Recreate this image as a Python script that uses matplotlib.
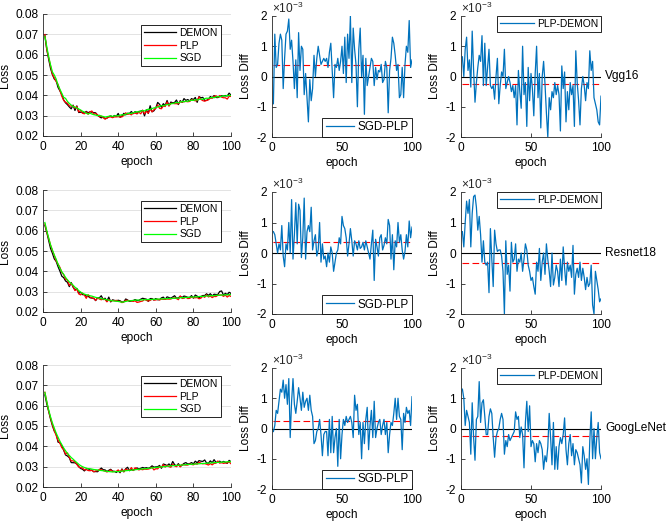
import numpy as np
import matplotlib
matplotlib.use('Agg')
from matplotlib import pyplot as plt
import matplotlib.transforms as mtransforms

plt.rcParams['font.family'] = ['Liberation Sans', 'DejaVu Sans']
plt.rcParams['mathtext.fontset'] = 'custom'
plt.rcParams['mathtext.rm'] = 'Liberation Sans'
plt.rcParams['axes.unicode_minus'] = False

# epochs
epochs = np.arange(1, 101)
nets = ['Vgg16', 'Resnet18', 'GoogLeNet']

# SGD loss curves
sgd_vgg = [
    0.0690, 0.0640, 0.0590, 0.0550, 0.0515, 0.0500, 0.0480, 0.0450, 0.0430, 0.0410,
    0.0390, 0.0385, 0.0370, 0.0360, 0.0352, 0.0345, 0.0342, 0.0338, 0.0333, 0.0328,
    0.0322, 0.0318, 0.0312, 0.0308, 0.0312, 0.0308, 0.0305, 0.0303, 0.0300, 0.0302,
    0.0298, 0.0296, 0.0293, 0.0295, 0.0297, 0.0299, 0.0296, 0.0299, 0.0300, 0.0298,
    0.0302, 0.0305, 0.0303, 0.0307, 0.0310, 0.0312, 0.0310, 0.0315, 0.0317, 0.0320,
    0.0318, 0.0322, 0.0325, 0.0323, 0.0328, 0.0332, 0.0330, 0.0335, 0.0338, 0.0340,
    0.0343, 0.0345, 0.0350, 0.0348, 0.0352, 0.0355, 0.0353, 0.0358, 0.0360, 0.0362,
    0.0365, 0.0363, 0.0367, 0.0370, 0.0368, 0.0372, 0.0370, 0.0374, 0.0376, 0.0375,
    0.0378, 0.0377, 0.0380, 0.0382, 0.0380, 0.0384, 0.0386, 0.0385, 0.0388, 0.0390,
    0.0388, 0.0392, 0.0394, 0.0392, 0.0395, 0.0398, 0.0396, 0.0400, 0.0398, 0.0400]
sgd_resnet = [
    0.0640, 0.0600, 0.0565, 0.0530, 0.0505, 0.0480, 0.0460, 0.0435, 0.0415, 0.0398,
    0.0385, 0.0370, 0.0358, 0.0348, 0.0340, 0.0332, 0.0322, 0.0315, 0.0305, 0.0298,
    0.0292, 0.0288, 0.0285, 0.0283, 0.0280, 0.0278, 0.0275, 0.0272, 0.0270, 0.0268,
    0.0266, 0.0264, 0.0262, 0.0260, 0.0258, 0.0256, 0.0255, 0.0254, 0.0253, 0.0252,
    0.0250, 0.0248, 0.0250, 0.0252, 0.0254, 0.0255, 0.0256, 0.0257, 0.0258, 0.0259,
    0.0258, 0.0260, 0.0259, 0.0261, 0.0260, 0.0262, 0.0261, 0.0262, 0.0263, 0.0262,
    0.0264, 0.0263, 0.0265, 0.0264, 0.0266, 0.0265, 0.0267, 0.0266, 0.0268, 0.0267,
    0.0269, 0.0268, 0.0270, 0.0271, 0.0270, 0.0272, 0.0271, 0.0273, 0.0274, 0.0273,
    0.0275, 0.0274, 0.0276, 0.0277, 0.0276, 0.0278, 0.0279, 0.0278, 0.0280, 0.0281,
    0.0280, 0.0282, 0.0283, 0.0282, 0.0284, 0.0283, 0.0285, 0.0284, 0.0286, 0.0285]
sgd_google = [
    0.0665, 0.0620, 0.0580, 0.0545, 0.0515, 0.0490, 0.0465, 0.0445, 0.0425, 0.0408,
    0.0392, 0.0378, 0.0365, 0.0355, 0.0345, 0.0337, 0.0328, 0.0320, 0.0312, 0.0305,
    0.0300, 0.0296, 0.0293, 0.0290, 0.0290, 0.0288, 0.0286, 0.0285, 0.0284, 0.0282,
    0.0281, 0.0280, 0.0278, 0.0277, 0.0276, 0.0275, 0.0274, 0.0275, 0.0276, 0.0275,
    0.0277, 0.0278, 0.0279, 0.0280, 0.0281, 0.0282, 0.0283, 0.0284, 0.0285, 0.0286,
    0.0287, 0.0288, 0.0289, 0.0290, 0.0290, 0.0292, 0.0293, 0.0294, 0.0295, 0.0296,
    0.0297, 0.0298, 0.0299, 0.0300, 0.0300, 0.0302, 0.0303, 0.0304, 0.0305, 0.0305,
    0.0306, 0.0307, 0.0308, 0.0308, 0.0309, 0.0310, 0.0311, 0.0311, 0.0312, 0.0312,
    0.0313, 0.0314, 0.0314, 0.0315, 0.0316, 0.0316, 0.0317, 0.0318, 0.0318, 0.0319,
    0.0320, 0.0320, 0.0321, 0.0322, 0.0322, 0.0323, 0.0323, 0.0324, 0.0324, 0.0325]

# loss differences, units of 1e-3
sgd_plp_vgg = [
    -0.9, 1.4, 0.3, 0.4, 1.1, 1.4, 1.2, -0.4, 0.6, 1.4,
    1.5, 1.9, 0.9, 1.2, 0.5, -0.4, 0.55, -0.7, 1.45, 0.2,
    1.0, 0.9, -0.6, 0.1, -0.7, -1.5, -0.1, -0.8, -0.4, 0.7,
    0.0, 0.6, 1.0, 0.7, 0.4, 0.5, 0.6, 0.5, 0.6, 0.3,
    0.8, 1.1, 0.2, -0.7, 0.4, 0.3, 0.6, 0.2, 0.5, 1.0,
    0.1, 1.3, -0.2, 1.4, 0.6, 2.0, -0.2, 1.6, 0.9, 0.4,
    -1.0, 0.9, 1.6, 0.0, 0.7, -1.25, 0.6, -0.3, 0.0, 0.3,
    0.6, 0.5, -0.3, 0.3, -0.1, 0.2, 0.15, 0.4, -0.2, -0.1,
    0.5, 0.3, -1.2, 0.2, 0.6, 1.3, 1.1, 0.7, 0.2, 0.4,
    -0.7, -0.6, 0.3, -0.7, 0.4, 1.0, 0.8, 1.85, 0.3, 0.55]
plp_demon_vgg = [
    0.65, 0.0, 0.9, 1.3, 0.2, 0.55, -0.35, 1.5, 0.2, -0.85,
    -0.2, 0.3, 0.7, 0.5, 1.35, -0.3, 1.1, -0.3, 0.3, 0.9,
    -0.3, -0.4, -0.3, -0.75, 0.0, 0.6, -0.9, -0.3, 0.15, 0.0,
    0.9, -0.4, -0.2, 0.0, -0.2, -0.5, -0.3, -0.7, -0.3, -1.6,
    0.2, -0.5, -1.05, 1.0, -0.6, -0.2, -1.65, 0.3, -0.8, 0.1,
    -0.4, -1.3, 0.1, 1.0, -0.7, 0.1, -1.7, 0.0, 0.5, -0.25,
    -1.2, -2.0, -0.7, -1.1, -0.5, -0.7, -0.2, -0.6, -0.3, -0.6,
    -1.8, 0.35, -0.4, 0.15, -1.5, -0.5, -1.1, -0.2, -0.6, -0.3,
    -1.65, 0.85, -0.2, -0.8, -1.6, -0.4, 0.0, -0.3, -0.8, -0.2,
    -0.4, 0.85, 0.2, 0.5, -0.7, -0.9, -1.1, -1.5, -1.6, -0.65]
sgd_plp_resnet = [
    0.7, 0.6, 0.3, 0.0, 0.3, 0.1, 0.9, -0.1, -0.45, 0.3,
    0.1, 1.0, 0.0, 1.75, -0.2, 0.6, 1.65, 0.3, 1.6, 1.4,
    -0.15, 0.5, 1.8, -0.2, 0.7, 0.9, 0.7, 1.5, 0.1, 0.4,
    0.6, -0.1, 0.1, 1.0, -0.3, 0.3, -0.2, -0.1, -0.45, 0.0,
    -0.3, 0.2, 0.0, -0.6, -0.3, 0.0, 0.1, 0.5, 0.3, 1.2,
    0.9, 0.8, 0.5, -0.1, 0.3, 0.8, 0.4, -0.1, 0.4, 0.3,
    0.1, 0.4, 0.15, 0.2, 0.35, 0.1, 0.4, 0.2, 0.0, -0.2,
    0.3, 0.75, -0.9, 0.45, 0.2, -0.1, 0.5, 0.6, 0.1, 0.25,
    0.5, 0.3, 1.1, 0.9, -0.2, 0.6, -0.55, 0.4, 0.2, 1.0,
    0.35, 0.6, 0.1, -0.2, 0.05, 0.6, 0.2, 1.05, 0.5, 0.85]
plp_demon_resnet = [
    0.7, 0.2, 1.0, 1.7, 1.3, 1.75, 0.2, 1.3, 1.85, 1.9,
    1.5, 0.75, 1.2, 0.6, -0.3, 0.4, -0.3, -0.4, -0.3, -1.3,
    0.8, -0.2, -1.1, 0.75, 0.3, 0.05, 0.1, 0.1, -0.1, -0.6,
    -2.0, 0.4, -0.7, -0.4, -1.25, 0.35, -0.3, -0.2, 0.3, -0.6,
    -0.2, -0.3, 0.0, -0.6, -0.2, 0.3, 0.1, -0.4, -0.6, -0.9,
    -0.8, -1.1, -1.35, -0.3, -0.6, 0.15, -0.9, -0.3, 0.0, -0.7,
    0.3, -0.2, -0.6, -1.1, 0.0, -1.05, -0.8, -0.4, -0.6, -1.1,
    -0.2, -0.9, 0.2, -0.5, -1.05, -0.3, -0.6, -0.4, -0.8, 0.25,
    -1.35, -0.7, -0.5, -0.8, -0.3, -0.9, -0.5, -0.8, -1.2, -0.8,
    -1.1, -1.0, -0.4, -1.7, -2.0, -0.6, -0.9, -1.2, -1.6, -1.5]
sgd_plp_google = [
    -0.1, 0.1, 0.6, 0.5, 0.9, 1.3, 1.2, 1.6, 1.0, 1.45,
    0.8, 1.65, -0.3, 0.9, 1.65, 0.8, 0.5, 0.9, 1.35, 1.0,
    0.6, 1.2, 0.7, 0.9, 1.0, 0.6, 1.1, 0.6, 0.4, -0.5,
    -0.4, -0.1, 0.0, 0.3, -0.2, -0.9, -0.2, -0.1, -0.1, -0.9,
    0.3, -0.8, 0.4, -0.8, -0.3, 0.0, -1.25, 0.3, -1.0, -0.2,
    0.3, 0.1, 0.4, 0.2, 0.3, 0.4, 0.2, -0.3, 1.1, 0.6,
    0.8, -0.2, 0.2, -1.0, 0.2, -0.5, 0.3, 0.7, -0.7, 0.1,
    0.6, -0.3, 0.9, -0.3, 0.0, 0.2, 0.3, -0.2, 0.1, 0.3,
    -0.2, 0.2, -0.8, -0.2, 0.2, 0.1, 0.5, 1.0, 0.3, 1.0,
    0.4, 0.3, -0.7, 0.5, 0.2, 0.7, 0.5, 0.6, 0.1, 1.05]
plp_demon_google = [
    1.3, 1.0, 0.1, 0.6, 0.4, 0.2, -0.85, 0.85, -0.3, -1.05,
    0.3, 0.4, 1.55, 0.2, 0.85, 0.95, 0.4, -0.2, -0.2, 0.4,
    0.65, 0.5, -0.3, -0.95, -0.3, -0.1, 0.0, 0.3, 0.5, 0.3,
    -0.85, -0.4, -0.6, -0.2, -0.4, -0.3, -0.2, -0.1, 0.55, 0.3,
    0.4, -0.3, 0.05, -0.2, -1.3, 0.2, 0.9, -0.1, 0.75, -0.6,
    -0.4, -0.5, -1.1, -0.5, -0.8, -0.4, -0.5, -0.7, -1.35, -0.9,
    -1.1, -0.6, 0.5, -0.3, -1.2, 0.2, -1.35, -0.6, -1.35, -0.6,
    -0.3, -0.5, -0.2, 0.35, -0.7, -1.2, -0.5, -0.2, -0.9, -0.5,
    -1.2, -0.7, -0.8, -1.0, -1.2, -1.8, -0.6, -0.9, -1.35, -1.0,
    -1.85, -0.4, 0.55, -1.0, 0.0, -1.0, -0.3, 0.2, -0.8, -1.0]

# mean lines (dashed red), units of 1e-3
mean_sgd_plp = [0.37, 0.37, 0.26]
mean_plp_demon = [-0.26, -0.33, -0.26]

sgd_all = [sgd_vgg, sgd_resnet, sgd_google]
d1_all = [sgd_plp_vgg, sgd_plp_resnet, sgd_plp_google]
d2_all = [plp_demon_vgg, plp_demon_resnet, plp_demon_google]

W, H = 668, 527
fs = 8.6
BLUE = '#0072BD'
AXC = '#262626'
DASH = (0, (6, 3))


def px_axes(fig, l, t, r, b):
    return fig.add_axes([l / W, 1 - b / H, (r - l) / W, (b - t) / H])


def style(ax):
    for s in ['top', 'right']:
        ax.spines[s].set_visible(False)
    for s in ['left', 'bottom']:
        ax.spines[s].set_color(AXC)
        ax.spines[s].set_linewidth(0.6)
    ax.tick_params(direction='in', length=3, width=0.6, colors=AXC,
                   labelsize=fs, pad=3.5, labelcolor='black')


def main():
    fig = plt.figure(figsize=(W / 100, H / 100), dpi=100)
    rows_left = [(14, 136), (190, 312), (365, 487)]
    rows_mid = [(16, 137), (192, 314), (368, 489)]

    for i in range(3):
        sgd = np.array(sgd_all[i])
        d1 = np.array(d1_all[i])
        d2 = np.array(d2_all[i])
        plp = sgd - d1 * 1e-3
        demon = plp - d2 * 1e-3

        # loss curves
        ax = px_axes(fig, 43, rows_left[i][0], 231, rows_left[i][1])
        ax.yaxis.grid(True, color='#dedede', linewidth=0.6)
        ax.set_axisbelow(True)
        ax.plot(epochs, demon, color='black', lw=0.9, label='DEMON')
        ax.plot(epochs, plp, color='red', lw=0.9, label='PLP')
        ax.plot(epochs, sgd, color='#00ff00', lw=0.9, label='SGD')
        ax.set_xlim(0, 100)
        ax.set_ylim(0.02, 0.08)
        ax.set_xticks(np.arange(0, 101, 20))
        ax.set_yticks(np.arange(0.02, 0.081, 0.01))
        ax.set_yticklabels(['%.2f' % v for v in np.arange(0.02, 0.081, 0.01)])
        style(ax)
        ax.set_xlabel('epoch', fontsize=fs, labelpad=2)
        ax.set_ylabel('Loss', fontsize=fs, labelpad=3)
        leg = ax.legend(loc='upper right', bbox_to_anchor=(0.947, 0.91),
                        borderaxespad=0, fontsize=7.4, fancybox=False,
                        edgecolor='black', framealpha=1, handlelength=3.2,
                        labelspacing=0.25, borderpad=0.3, handletextpad=0.3)
        leg.get_frame().set_linewidth(0.6)

        # SGD-PLP
        ax = px_axes(fig, 272, rows_mid[i][0], 412, rows_mid[i][1])
        ax.plot([0, 100], [0, 0], color='black', lw=0.8)
        ax.plot([1, 100], [mean_sgd_plp[i]] * 2, color='red', lw=0.8, ls=DASH)
        ax.plot(epochs, d1, color=BLUE, lw=0.9, label='SGD-PLP')
        ax.set_xlim(0, 100)
        ax.set_ylim(-2, 2)
        ax.set_xticks([0, 50, 100])
        ax.set_yticks([-2, -1, 0, 1, 2])
        style(ax)
        ax.set_xlabel('epoch', fontsize=fs, labelpad=2)
        ax.set_ylabel('Loss Diff', fontsize=fs, labelpad=3)
        ax.text(0.0, 1.0, r'$\times10^{-3}$', transform=ax.transAxes,
                fontsize=fs, ha='left', va='bottom', color=AXC)
        leg = ax.legend(loc='lower right', bbox_to_anchor=(1, 0),
                        borderaxespad=0, fontsize=8.4, fancybox=False,
                        edgecolor='black', framealpha=1, handlelength=2.4,
                        borderpad=0.3, handletextpad=0.3)
        leg.get_frame().set_linewidth(0.6)

        # PLP-DEMON
        ax = px_axes(fig, 461, rows_mid[i][0], 601, rows_mid[i][1])
        ax.plot([0, 100], [0, 0], color='black', lw=0.8)
        ax.plot([1, 100], [mean_plp_demon[i]] * 2, color='red', lw=0.8, ls=DASH)
        ax.plot(epochs, d2, color=BLUE, lw=0.9, label='PLP-DEMON')
        ax.set_xlim(0, 100)
        ax.set_ylim(-2, 2)
        ax.set_xticks([0, 50, 100])
        ax.set_yticks([-2, -1, 0, 1, 2])
        style(ax)
        ax.set_xlabel('epoch', fontsize=fs, labelpad=2)
        ax.set_ylabel('Loss Diff', fontsize=fs, labelpad=3)
        ax.text(0.0, 1.0, r'$\times10^{-3}$', transform=ax.transAxes,
                fontsize=fs, ha='left', va='bottom', color=AXC)
        leg = ax.legend(loc='upper right', bbox_to_anchor=(1, 1),
                        borderaxespad=0, fontsize=7.4, fancybox=False,
                        edgecolor='black', framealpha=1, handlelength=3.3,
                        borderpad=0.3, handletextpad=0.3)
        leg.get_frame().set_linewidth(0.6)
        trans = mtransforms.blended_transform_factory(ax.transAxes, ax.transData)
        ax.text(1.03, 0, nets[i], transform=trans, fontsize=fs,
                ha='left', va='center')

    fig.savefig('out.png', dpi=100)


if __name__ == "__main__":
    main()
